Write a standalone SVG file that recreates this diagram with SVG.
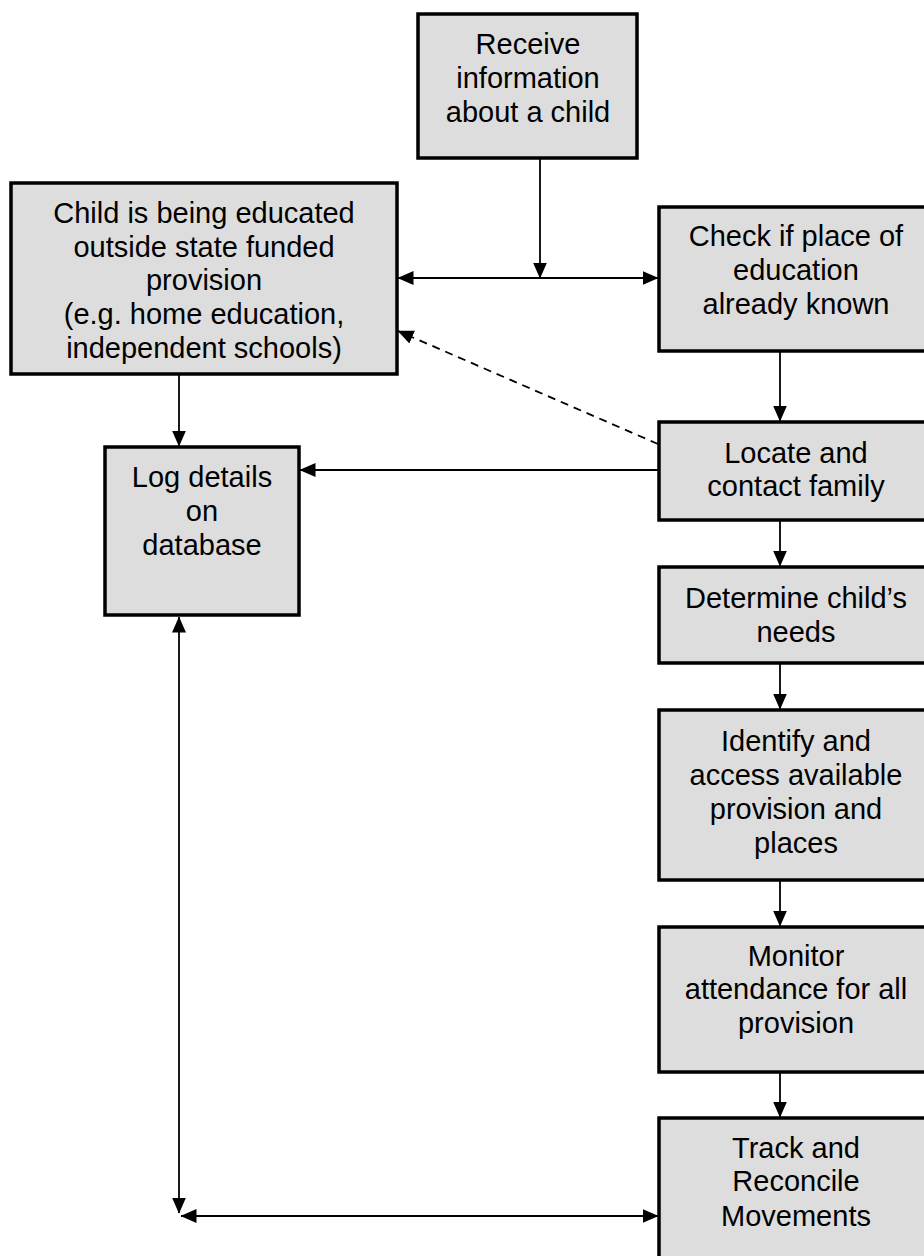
<svg xmlns="http://www.w3.org/2000/svg" width="924" height="1256" viewBox="0 0 924 1256">
<defs>
<style>
.box{fill:#dddddd;stroke:#000;stroke-width:3.5}
.t{font-family:"Liberation Sans",Arial,sans-serif;font-size:29px;fill:#000;text-anchor:middle}
.c{fill:none;stroke:#000;stroke-width:1.8}
.d{stroke-dasharray:8,6}
</style>
<marker id="ah" markerUnits="userSpaceOnUse" markerWidth="16" markerHeight="16" viewBox="0 0 16 16" refX="15.5" refY="8" orient="auto-start-reverse">
<path d="M0,1 L16,8 L0,15 z" fill="#000"/>
</marker>
</defs>
<rect width="924" height="1256" fill="#fff"/>
<g id="connectors">
<line class="c" x1="540" y1="158" x2="540" y2="278" marker-end="url(#ah)"/>
<line class="c" x1="398" y1="278" x2="658" y2="278" marker-start="url(#ah)" marker-end="url(#ah)"/>
<line class="c d" x1="658" y1="444" x2="398" y2="331" marker-end="url(#ah)"/>
<line class="c" x1="179" y1="375" x2="179" y2="446" marker-end="url(#ah)"/>
<line class="c" x1="658" y1="470" x2="300" y2="470" marker-end="url(#ah)"/>
<line class="c" x1="780" y1="352" x2="780" y2="421" marker-end="url(#ah)"/>
<line class="c" x1="780" y1="521" x2="780" y2="566" marker-end="url(#ah)"/>
<line class="c" x1="780" y1="664" x2="780" y2="709" marker-end="url(#ah)"/>
<line class="c" x1="780" y1="881" x2="780" y2="926" marker-end="url(#ah)"/>
<line class="c" x1="780" y1="1073" x2="780" y2="1117" marker-end="url(#ah)"/>
<line class="c" x1="179" y1="617" x2="179" y2="1213" marker-start="url(#ah)" marker-end="url(#ah)"/>
<line class="c" x1="181" y1="1216" x2="658" y2="1216" marker-start="url(#ah)" marker-end="url(#ah)"/>
</g>
<g id="receive">
<rect class="box" x="418" y="14" width="219" height="144"/>
<text class="t" x="528" y="54">Receive</text>
<text class="t" x="528" y="88">information</text>
<text class="t" x="528" y="122">about a child</text>
</g>
<g id="outside">
<rect class="box" x="11" y="183" width="386" height="191"/>
<text class="t" x="204" y="223">Child is being educated</text>
<text class="t" x="204" y="257">outside state funded</text>
<text class="t" x="204" y="290">provision</text>
<text class="t" x="204" y="324">(e.g. home education,</text>
<text class="t" x="204" y="358">independent schools)</text>
</g>
<g id="check">
<rect class="box" x="659" y="207" width="274" height="144"/>
<text class="t" x="796" y="246">Check if place of</text>
<text class="t" x="796" y="280">education</text>
<text class="t" x="796" y="314">already known</text>
</g>
<g id="locate">
<rect class="box" x="659" y="422" width="274" height="98"/>
<text class="t" x="796" y="463">Locate and</text>
<text class="t" x="796" y="496">contact family</text>
</g>
<g id="log">
<rect class="box" x="105" y="447" width="194" height="168"/>
<text class="t" x="202" y="487">Log details</text>
<text class="t" x="202" y="521">on</text>
<text class="t" x="202" y="555">database</text>
</g>
<g id="determine">
<rect class="box" x="659" y="567" width="274" height="96"/>
<text class="t" x="796" y="608">Determine child’s</text>
<text class="t" x="796" y="642">needs</text>
</g>
<g id="identify">
<rect class="box" x="659" y="710" width="274" height="170"/>
<text class="t" x="796" y="751">Identify and</text>
<text class="t" x="796" y="785">access available</text>
<text class="t" x="796" y="819">provision and</text>
<text class="t" x="796" y="853">places</text>
</g>
<g id="monitor">
<rect class="box" x="659" y="927" width="274" height="145"/>
<text class="t" x="796" y="966">Monitor</text>
<text class="t" x="796" y="999">attendance for all</text>
<text class="t" x="796" y="1033">provision</text>
</g>
<g id="track">
<rect class="box" x="659" y="1118" width="274" height="160"/>
<text class="t" x="796" y="1158">Track and</text>
<text class="t" x="796" y="1191">Reconcile</text>
<text class="t" x="796" y="1226">Movements</text>
</g>
</svg>
